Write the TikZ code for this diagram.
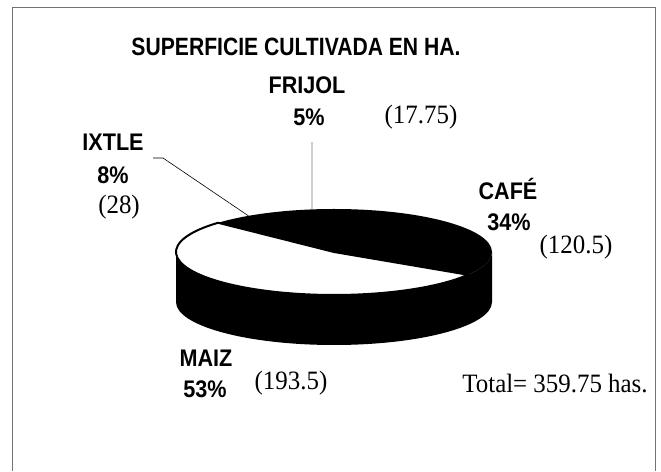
\documentclass[tikz,border=0pt]{standalone}
\usepackage{fontspec}
\setmainfont{Liberation Serif}
\setsansfont{Liberation Sans}
\begin{document}
\begin{tikzpicture}[x=1pt,y=1pt,
    titlelbl/.style={font=\sffamily\bfseries\fontsize{25}{28}\selectfont, inner sep=0pt, xscale=0.845},
    lbl/.style={font=\sffamily\bfseries\fontsize{24}{28}\selectfont, inner sep=0pt, xscale=0.9},
    num/.style={font=\fontsize{26.5}{30}\selectfont, inner sep=0pt, xscale=0.94},
    leader/.style={line width=0.6pt}]
    \useasboundingbox (0,0) rectangle (661,471);
    % Frame
    \draw[black!55, line width=0.8pt] (12,0) -- (12,464) -- (655,464) -- (655,0);
    % Title
    \node[titlelbl] (title) at (296,424) {SUPERFICIE CULTIVADA EN HA.};
    % Pie: side, top face, MAIZ slice
    \coordinate (c) at (334,219);
    \fill (176,219) arc (180:360:158pt and 43pt) -- ++(0,-50) arc (360:180:158pt and 43pt) -- cycle;
    \fill (c) ellipse (158pt and 43pt);
    \filldraw[fill=white, line width=2pt, line join=round] (c) -- ++(137.2:158pt and 43pt) arc (137.2:328:158pt and 43pt) -- cycle;
    % Rim points for leaders
    \path (c) ++(98:158pt and 43pt) coordinate (frijolrim);
    \path (c) ++(122.8:158pt and 43pt) coordinate (ixtlerim);
    % Labels
    \node[lbl] (frijol) at (307,386) {FRIJOL};
    \node[lbl] (frijolpct) at (309,354) {5\%};
    \node[num] (frijolha) at (421,354) {(17.75)};
    \node[lbl] (ixtle) at (113,329) {IXTLE};
    \node[lbl] (ixtlepct) at (113,296) {8\%};
    \node[num] (ixtleha) at (119,264) {(28)};
    \node[lbl] (cafe) at (508,282) {CAFÉ};
    \node[lbl] (cafepct) at (509,249) {34\%};
    \node[num] (cafeha) at (576,224) {(120.5)};
    \node[lbl] (maiz) at (206,113) {MAIZ};
    \node[lbl] (maizpct) at (205,82) {53\%};
    \node[num] (maizha) at (291,88) {(193.5)};
    \node[num] (total) at (555,88) {Total= 359.75 has.};
    % Leaders
    \coordinate (frijoltop) at (312,329);
    \coordinate (ixtletip) at (153,313);
    \draw[leader, black!55] (frijoltop) -- (frijolrim);
    \draw[leader] (ixtletip) -- ++(10,0) -- (ixtlerim);
\end{tikzpicture}
\end{document}
